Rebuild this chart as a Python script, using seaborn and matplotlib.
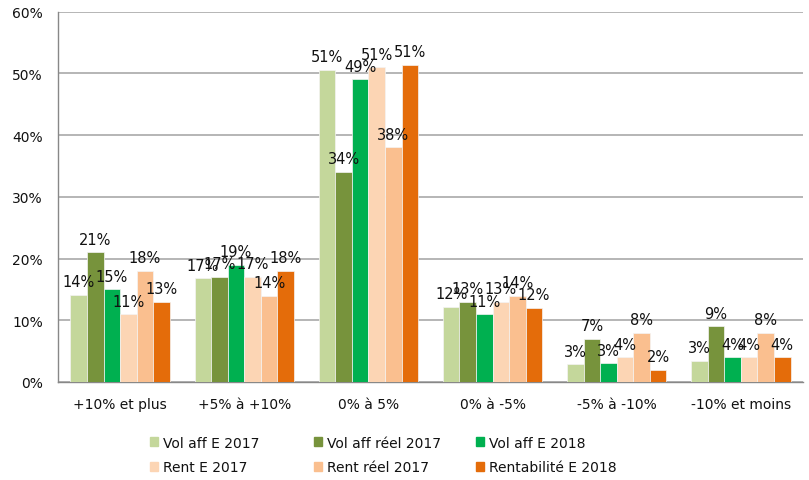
import matplotlib
matplotlib.use("Agg")
import matplotlib.pyplot as plt
import matplotlib.patches as mpatches
import pandas as pd
import seaborn as sns
from matplotlib.ticker import FuncFormatter, MultipleLocator

categories = ["+10% et plus", "+5% à +10%", "0% à 5%", "0% à -5%", "-5% à -10%", "-10% et moins"]
series = ["Vol aff E 2017", "Vol aff réel 2017", "Vol aff E 2018",
          "Rent E 2017", "Rent réel 2017", "Rentabilité E 2018"]

vol_aff_e_2017 = [14.1, 16.8, 50.6, 12.2, 2.9, 3.4]
vol_aff_reel_2017 = [21.0, 17.0, 34.0, 13.0, 7.0, 9.0]
vol_aff_e_2018 = [15.0, 19.0, 49.0, 11.0, 3.0, 4.0]
rent_e_2017 = [11.0, 17.0, 51.0, 13.0, 4.0, 4.0]
rent_reel_2017 = [18.0, 14.0, 38.0, 14.0, 8.0, 8.0]
rentabilite_e_2018 = [13.0, 18.0, 51.4, 12.0, 2.0, 4.0]

colors = ["#C4D79B", "#77933C", "#00B050", "#FCD5B4", "#FABF8F", "#E46C0A"]

values = [vol_aff_e_2017, vol_aff_reel_2017, vol_aff_e_2018,
          rent_e_2017, rent_reel_2017, rentabilite_e_2018]
rows = []
for name, vals in zip(series, values):
    for cat, v in zip(categories, vals):
        rows.append({"categorie": cat, "serie": name, "valeur": v})
df = pd.DataFrame(rows)

sns.set_style("white")
plt.rcParams["font.family"] = ["DejaVu Sans"]

fig = plt.figure(figsize=(8.09, 4.81), dpi=100)
ax = fig.add_axes([58 / 809, (481 - 383) / 481, 745 / 809, (383 - 12.5) / 481])

sns.barplot(data=df, x="categorie", y="valeur", hue="serie",
            order=categories, hue_order=series, palette=colors,
            width=0.8, saturation=1, legend=False, ax=ax, zorder=3,
            edgecolor="#f4f4f4", linewidth=0.5)

for cont in ax.containers:
    labels = [f"{round(b.get_height())}%" for b in cont]
    ax.bar_label(cont, labels=labels, padding=4, fontsize=10.5, color="#111111", zorder=4)

ax.set_ylim(0, 60)
ax.set_xlim(-0.5, len(categories) - 0.5)
ax.yaxis.set_major_locator(MultipleLocator(10))
ax.yaxis.set_major_formatter(FuncFormatter(lambda v, p: f"{int(v)}%"))
ax.grid(axis="y", color="#B0B0B0", linewidth=1.3, zorder=0)
ax.set_axisbelow(True)

# category boundaries as tick marks, labels in the middle
ax.set_xticks([i - 0.5 for i in range(len(categories) + 1)], minor=True)
ax.tick_params(axis="x", which="minor", length=4, width=1, color="#888888", direction="out")
ax.tick_params(axis="x", which="major", length=0, pad=11, labelsize=10, labelcolor="#111111")
ax.tick_params(axis="y", length=4, width=1, color="#888888", direction="out", pad=7,
               labelsize=10, labelcolor="#111111")
ax.set_xlabel("")
ax.set_ylabel("")

for side in ["top", "right"]:
    ax.spines[side].set_visible(False)
for side in ["left", "bottom"]:
    ax.spines[side].set_color("#888888")
    ax.spines[side].set_linewidth(1)

# legend: three columns of two entries
col_x = [150, 314, 476]
for j, x in enumerate(col_x):
    handles = [mpatches.Patch(color=colors[j]), mpatches.Patch(color=colors[j + 3])]
    leg = fig.legend(handles, [series[j], series[j + 3]], loc="center left",
                     bbox_to_anchor=(x / 809, 1 - 456 / 481), frameon=False,
                     fontsize=10, handlelength=0.6, handleheight=0.6,
                     handletextpad=0.35, labelspacing=0.75, borderpad=0,
                     borderaxespad=0)
    for t in leg.get_texts():
        t.set_color("#111111")

fig.savefig("out.png", dpi=100)
